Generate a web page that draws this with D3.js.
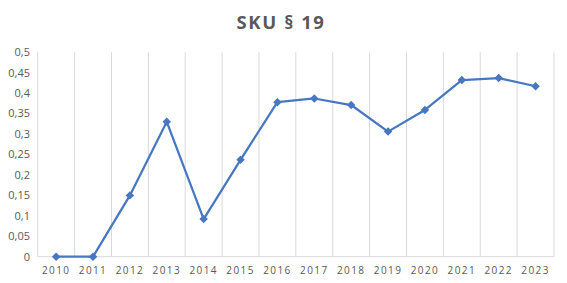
<!DOCTYPE html>
<html><head><meta charset="utf-8">
<script src="https://cdn.jsdelivr.net/npm/d3@7"></script>
<style>
body{margin:0;background:#fff;}
svg{display:block;font-family:"Open Sans",sans-serif;}
</style></head>
<body><svg id="c" width="567" height="283"></svg>
<script>
const years = ["2010","2011","2012","2013","2014","2015","2016","2017","2018","2019","2020","2021","2022","2023"];
const values = [0,0,0.15,0.33,0.092,0.237,0.378,0.387,0.371,0.306,0.359,0.432,0.437,0.417];
const yTicks = [0,0.05,0.1,0.15,0.2,0.25,0.3,0.35,0.4,0.45,0.5];

const svg = d3.select("#c");
const m = {l:37.7, r:567-554, t:52.3, b:283-256.7};
const W = 567, H = 283;
const x = d3.scaleBand().domain(years).range([m.l, W-m.r]);
const y = d3.scaleLinear().domain([0,0.5]).range([H-m.b, m.t]);
const fmt = v => String(v).replace(".", ",");

svg.append("text").attr("x", 281).attr("y", 29).attr("text-anchor","middle")
  .attr("font-size", 18.5).attr("font-weight","bold").attr("fill","#595959")
  .attr("letter-spacing", 1.6).text("SKU § 19");

// vertical gridlines at band boundaries
const bounds = years.map(d => x(d)).concat([x(years[years.length-1]) + x.bandwidth()]);
svg.append("g").selectAll("line").data(bounds).join("line")
  .attr("x1", d=>d).attr("x2", d=>d).attr("y1", y(0.5)).attr("y2", y(0))
  .attr("stroke", "#d9d9d9").attr("stroke-width", 1);

// bottom axis
svg.append("line").attr("x1", m.l).attr("x2", W-m.r).attr("y1", y(0)).attr("y2", y(0))
  .attr("stroke", "#d9d9d9").attr("stroke-width", 1);

// y labels
svg.append("g").selectAll("text").data(yTicks).join("text")
  .attr("x", 30).attr("y", d => y(d)).attr("dy", "0.35em").attr("text-anchor","end")
  .attr("font-size", 11).attr("fill", "#595959").text(fmt);

// x labels
svg.append("g").selectAll("text").data(years).join("text")
  .attr("x", d => x(d) + x.bandwidth()/2).attr("y", 274).attr("text-anchor","middle")
  .attr("font-size", 10).attr("letter-spacing", 1.4).attr("fill", "#595959").text(d=>d);

const line = d3.line().x((d,i)=> x(years[i]) + x.bandwidth()/2).y(d => y(d));
svg.append("path").datum(values).attr("d", line).attr("fill","none")
  .attr("stroke","#4677c0").attr("stroke-width", 2.25).attr("stroke-linejoin","round");

const sym = d3.symbol().type(d3.symbolSquare).size(36);
svg.append("g").selectAll("path").data(values).join("path")
  .attr("transform", (d,i) => `translate(${x(years[i]) + x.bandwidth()/2},${y(d)}) rotate(45)`)
  .attr("d", sym).attr("fill","#4677c0");
</script></body></html>
